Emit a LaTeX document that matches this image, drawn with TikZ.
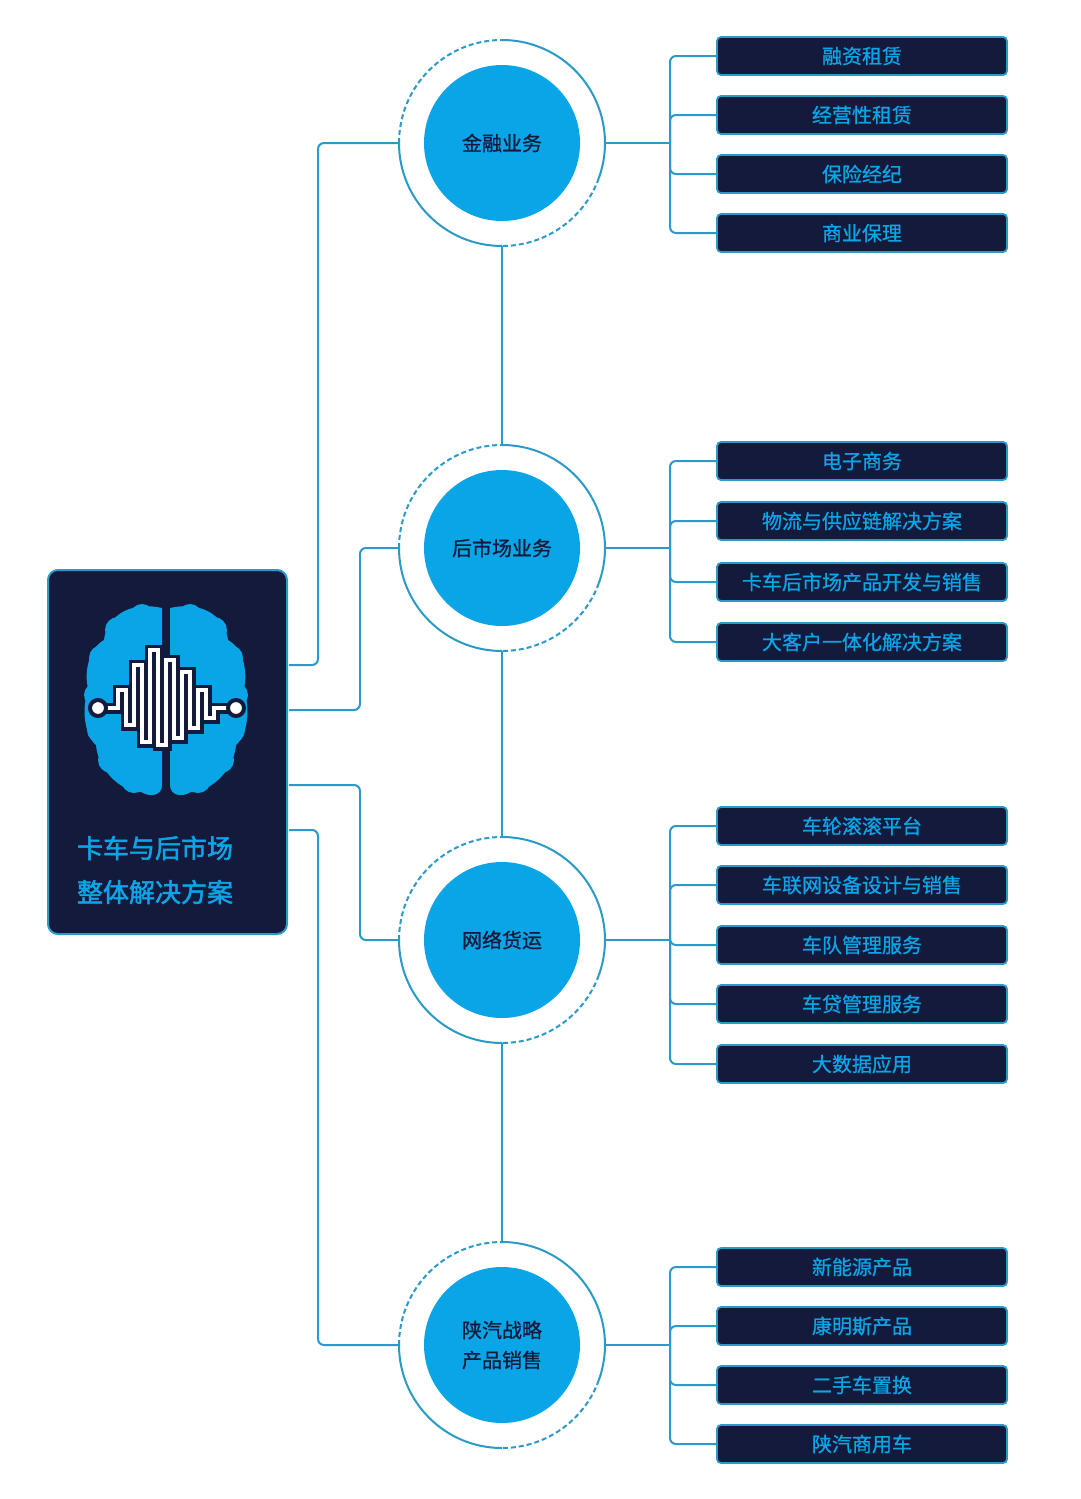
\documentclass[tikz,border=0pt]{standalone}
\usepackage{fontspec}
\newfontfamily\cjk{Noto Sans CJK SC}[FakeBold=0.8]
\newfontfamily\cjkb{Noto Sans CJK SC}[FakeBold=2]
\definecolor{navy}{HTML}{141A3C}
\definecolor{sky}{HTML}{0AA5E6}
\definecolor{ln}{HTML}{2A9BC9}
\begin{document}
\begin{tikzpicture}[x=1pt,y=-1pt,
 conn/.style={ln,line width=2pt,rounded corners=6pt},
 leaf/.style={draw=ln,line width=1.8pt,fill=navy,rounded corners=4pt,minimum width=290pt,minimum height=38pt,text=sky,font=\cjk\fontsize{20}{22}\selectfont},
 hub/.style={circle,fill=sky,minimum size=156pt,text=navy,align=center,font=\cjk\fontsize{20}{30}\selectfont},
 ring/.style={ln,line width=2pt},
 dring/.style={ring,dash pattern=on 5pt off 3pt}]
\useasboundingbox (0,0) rectangle (1080,1499);
\fill[white] (0,0) rectangle (1080,1499);
% hubs
\foreach \n/\y/\t in {h1/143/金融业务,h2/548/后市场业务,h3/940/网络货运,h4/1345/{陕汽战略\\产品销售}}{
 \node[hub] (\n) at (502,\y) {\t};
 \draw[ring] (502,\y) ++(-90:103) arc[start angle=-90,end angle=20,radius=103];
 \draw[dring] (502,\y) ++(20:103) arc[start angle=20,end angle=90,radius=103];
 \draw[ring] (502,\y) ++(90:103) arc[start angle=90,end angle=180,radius=103];
 \draw[dring] (502,\y) ++(180:103) arc[start angle=180,end angle=270,radius=103];
 \coordinate (\n L) at (399,\y); \coordinate (\n R) at (605,\y);
}
% vertical links between hubs
\coordinate (b1) at (502,246); \coordinate (t2) at (502,445);
\coordinate (b2) at (502,651); \coordinate (t3) at (502,837);
\coordinate (b3) at (502,1043); \coordinate (t4) at (502,1242);
\draw[conn] (b1)--(t2); \draw[conn] (b2)--(t3); \draw[conn] (b3)--(t4);
% left box
\node[draw=ln,line width=2pt,fill=navy,rounded corners=10pt,minimum width=239pt,minimum height=364pt] (main) at (167.5,752) {};
\node[text=sky,font=\cjkb\fontsize{26}{44}\selectfont,align=center] (title) at (155,870) {卡车与后市场\\整体解决方案};
% brain
\begin{scope}
\foreach \s in {1,-1}{
\begin{scope}[shift={(166,0)},xscale=\s]
\fill[sky] (-4,608) .. controls (-40,600) and (-60,620) .. (-62,640)
 .. controls (-80,650) and (-82,680) .. (-77,690)
 .. controls (-85,705) and (-82,735) .. (-70,745)
 .. controls (-68,770) and (-45,792) .. (-25,792)
 .. controls (-15,798) and (-4,795) .. (-4,785) -- cycle;
\foreach \p/\r in {{(-24,616)}/12,{(-48,630)}/13,{(-64,658)}/13,{(-70,695)}/12,{(-66,730)}/13,{(-55,760)}/13,{(-32,780)}/13}
 \fill[sky] \p circle (\r);
\end{scope}}
\fill[navy] (163,600) rectangle (169,800);
\def\wave{(98,708) -- (118,708) -- (118,690) -- (126,690) -- (126,725) -- (134,725) -- (134,665) -- (142,665) -- (142,742) -- (150,742) -- (150,650) -- (158,650) -- (158,745) -- (166,745) -- (166,660) -- (174,660) -- (174,738) -- (182,738) -- (182,672) -- (190,672) -- (190,728) -- (198,728) -- (198,690) -- (206,690) -- (206,718) -- (214,718) -- (214,708) -- (236,708)}
\draw[navy,line width=11pt,line join=miter] \wave;
\draw[white,line width=4pt,line join=miter] \wave;
\fill[white,draw=navy,line width=4pt] (98,708) circle (8);
\fill[white,draw=navy,line width=4pt] (236,708) circle (8);
\end{scope}
% main connectors
\coordinate (m1) at (289,665); \coordinate (m2) at (289,710);
\coordinate (m3) at (289,785); \coordinate (m4) at (289,830);
\draw[conn] (m1) -| (318,400) |- (h1L);
\draw[conn] (m2) -| (360,600) |- (h2L);
\draw[conn] (m3) -| (360,900) |- (h3L);
\draw[conn] (m4) -| (318,1000) |- (h4L);
% leaves
\newcommand\group[4]{%
 \foreach \t/\yy [count=\i] in {#3}{
  \node[leaf] (#1l\i) at (862,\yy) {\t};
 }
 \draw[ln,line width=2pt] (#1R) -- (670,#2);
 \draw[conn] (#1l1.west) -| (670,#2) |- (#1l#4.west);
 \foreach \i in {2,...,\numexpr#4-1\relax}{
  \draw[conn] (670,#2) |- (#1l\i.west);
 }}
\group{h1}{143}{融资租赁/56,经营性租赁/115,保险经纪/174,商业保理/233}{4}
\group{h2}{548}{电子商务/461,物流与供应链解决方案/521,卡车后市场产品开发与销售/582,大客户一体化解决方案/642}{4}
\group{h3}{940}{车轮滚滚平台/826,车联网设备设计与销售/885,车队管理服务/945,车贷管理服务/1004,大数据应用/1064}{5}
\group{h4}{1345}{新能源产品/1267,康明斯产品/1326,二手车置换/1385,陕汽商用车/1444}{4}
\end{tikzpicture}
\end{document}
